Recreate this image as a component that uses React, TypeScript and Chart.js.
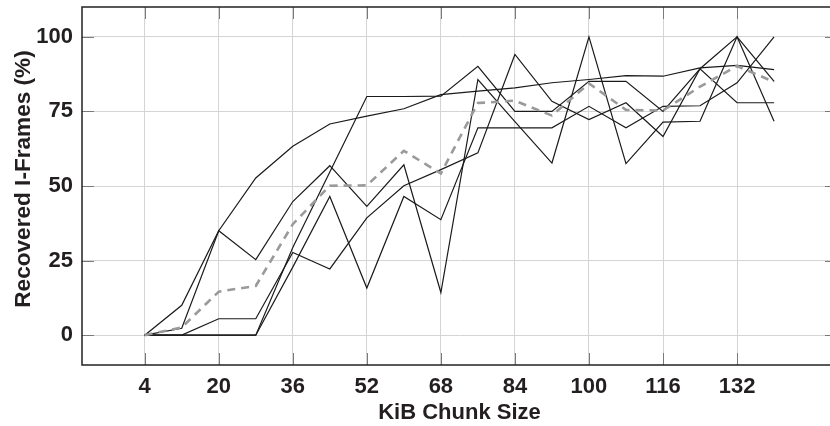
import { useEffect, useRef } from 'react';
import { Chart, registerables } from 'chart.js';

Chart.register(...registerables);

const chunkSizes = [4, 12, 20, 28, 36, 44, 52, 60, 68, 76, 84, 92, 100, 108, 116, 124, 132, 140];

const runA = [0, 10, 35, 25.3, 44.8, 56.8, 43.2, 57.1, 14.3, 85.7, 71.6, 57.7, 100, 57.5, 71.4, 71.7, 100, 71.7];
const runB = [0, 2.3, 35, 52.7, 63.3, 70.8, 73.4, 75.9, 80.6, 81.8, 82.9, 84.6, 85.7, 87, 86.8, 89.6, 90.4, 89.0];
const runC = [0, 0, 0, 0, 29.4, 54.7, 80, 80, 80.1, 90.1, 75, 75, 85.1, 85.1, 75, 89.3, 77.9, 77.9];
const runD = [0, 0, 5.5, 5.5, 27.7, 22.2, 39.3, 50.1, 55.5, 61.1, 94.1, 78.4, 72.3, 77.9, 66.6, 89.3, 100, 85.1];
const runE = [0, 0, 0, 0, 22.8, 46.5, 15.8, 46.5, 38.7, 69.5, 69.5, 69.5, 76.7, 69.5, 76.7, 76.9, 84.6, 100];
const averageRun = [0, 2.6, 14.6, 16.5, 37.2, 50.1, 50.2, 61.8, 54.2, 77.8, 78.6, 73.6, 84.4, 75.5, 75.3, 83.3, 90.2, 84.9];

const xTickValues = [4, 20, 36, 52, 68, 84, 100, 116, 132];
const yTickValues = [0, 25, 50, 75, 100];

const xTitle = 'KiB Chunk Size';
const yTitle = 'Recovered I-Frames (%)';

const FAMILY = '"Liberation Sans", Arial, sans-serif';
const FONT = { family: FAMILY, size: 22, weight: 'bold' as const };
const TEXT = '#231f20';

const framePlugin = {
  id: 'frameTicks',
  beforeDatasetsDraw(chart: any) {
    const { ctx, chartArea, scales } = chart;
    const { left, right, top, bottom } = chartArea;
    ctx.save();
    ctx.strokeStyle = '#7a7a7a';
    ctx.lineWidth = 1;
    const len = 12;
    ctx.beginPath();
    for (const v of xTickValues) {
      const x = Math.round(scales.x.getPixelForValue(v)) + 0.5;
      ctx.moveTo(x, top);
      ctx.lineTo(x, top + len);
      ctx.moveTo(x, bottom);
      ctx.lineTo(x, bottom - len);
    }
    for (const v of yTickValues) {
      const y = Math.round(scales.y.getPixelForValue(v)) + 0.5;
      ctx.moveTo(left, y);
      ctx.lineTo(left + len, y);
      ctx.moveTo(right, y);
      ctx.lineTo(right - len, y);
    }
    ctx.stroke();
    ctx.strokeStyle = '#222';
    ctx.lineWidth = 1.5;
    ctx.strokeRect(left, top, right - left, bottom - top);
    ctx.restore();
  },
  afterDraw(chart: any) {
    const { ctx } = chart;
    ctx.save();
    ctx.translate(24, 179);
    ctx.rotate(-Math.PI / 2);
    ctx.font = `bold 22.6px ${FAMILY}`;
    ctx.fillStyle = TEXT;
    ctx.textAlign = 'center';
    ctx.textBaseline = 'middle';
    ctx.fillText(yTitle, 0, 0);
    ctx.restore();
  },
};

export default function App() {
  const ref = useRef<HTMLCanvasElement | null>(null);

  useEffect(() => {
    if (!ref.current) return;
    const black = (data: number[]) => ({
      data: chunkSizes.map((x, i) => ({ x, y: data[i] })),
      borderColor: '#1a1a1a',
      borderWidth: 1.2,
      pointRadius: 0,
      tension: 0,
      fill: false,
    });
    const chart = new Chart(ref.current, {
      type: 'line',
      data: {
        datasets: [
          {
            data: chunkSizes.map((x, i) => ({ x, y: averageRun[i] })),
            borderColor: '#9a9a9a',
            borderWidth: 2.6,
            borderDash: [8, 6],
            pointRadius: 0,
            tension: 0,
            fill: false,
          },
          black(runA),
          black(runB),
          black(runC),
          black(runD),
          black(runE),
        ],
      },
      options: {
        animation: false,
        responsive: false,
        devicePixelRatio: 1,
        layout: { padding: { left: 0, top: 7, right: 3, bottom: 0 } },
        plugins: { legend: { display: false }, tooltip: { enabled: false } },
        scales: {
          x: {
            type: 'linear',
            min: -9.55,
            max: 153.6,
            afterFit: (s: any) => { s.height = 61; s.paddingLeft = 0; s.paddingRight = 0; },
            afterBuildTicks: (s: any) => { s.ticks = xTickValues.map((value) => ({ value })); },
            grid: { color: '#d4d4d4', lineWidth: 1, drawTicks: false },
            border: { display: false },
            ticks: { font: FONT, color: TEXT, padding: 9, maxRotation: 0, autoSkip: false, callback: (v: any) => String(v) },
            title: { display: true, text: xTitle, font: FONT, color: TEXT, padding: { top: 0, bottom: 0 } },
          },
          y: {
            type: 'linear',
            min: -10,
            max: 110,
            afterFit: (s: any) => { s.width = 82; s.paddingTop = 0; s.paddingBottom = 0; },
            afterBuildTicks: (s: any) => { s.ticks = yTickValues.map((value) => ({ value })); },
            grid: { color: '#d4d4d4', lineWidth: 1, drawTicks: false },
            border: { display: false },
            ticks: { font: FONT, color: TEXT, padding: 9, autoSkip: false, callback: (v: any) => String(v) },
            title: { display: false, text: yTitle },
          },
        },
      },
      plugins: [framePlugin],
    });
    return () => chart.destroy();
  }, []);

  return (
    <div style={{ position: 'fixed', left: 0, top: 0, width: 830, height: 426, overflow: 'hidden', background: '#fff' }}>
      <canvas ref={ref} width={840} height={426} style={{ width: 840, height: 426, display: 'block' }} />
    </div>
  );
}
